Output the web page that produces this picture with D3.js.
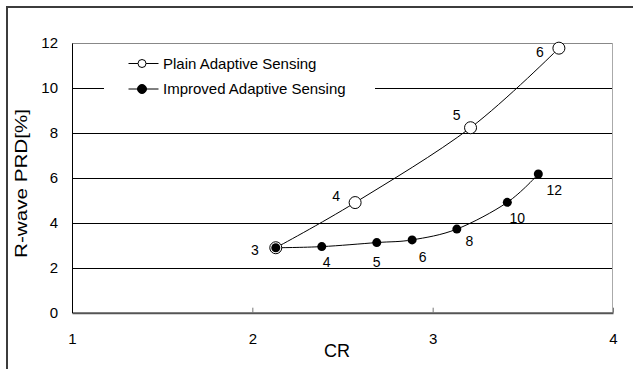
<!DOCTYPE html>
<html>
<head>
<meta charset="utf-8">
<script src="https://cdnjs.cloudflare.com/ajax/libs/d3/7.8.5/d3.min.js"></script>
<style>
    body { margin: 0; background: #fff; }
    svg { display: block; font-family: "Liberation Sans", Arial, sans-serif; }
</style>
</head>
<body>
<svg width="633" height="369"></svg>
<script>
// data
var plain_cr = [2.13, 2.57, 3.21, 3.70];
var plain_prd = [2.89, 4.90, 8.23, 11.77];
var plain_labels = ["3", "4", "5", "6"];

var improved_cr = [2.13, 2.385, 2.69, 2.886, 3.134, 3.414, 3.586];
var improved_prd = [2.89, 2.94, 3.12, 3.24, 3.72, 4.91, 6.17];
var improved_labels = ["3", "4", "5", "6", "8", "10", "12"];

var x_ticks = [1, 2, 3, 4];
var y_ticks = [0, 2, 4, 6, 8, 10, 12];
var series_names = ["Plain Adaptive Sensing", "Improved Adaptive Sensing"];

// label offsets from each point (layout only)
var plain_offsets = [[-21, 7.5], [-19, -2], [-14, -7.5], [-19, 9]];
var improved_offsets = [null, [5, 20.5], [0, 24.5], [10.5, 22.5], [12.5, 17], [10, 21], [16, 21]];

function to_points(xs, ys, labels, offsets) {
    return xs.map(function (v, i) {
        return {cr: v, prd: ys[i], label: labels[i], off: offsets[i]};
    });
}

function draw_chart() {
    var svg = d3.select("svg"),
            margin = {top: 43, right: 20, bottom: 56.3, left: 72},
            width = +svg.attr("width") - margin.left - margin.right,
            height = +svg.attr("height") - margin.top - margin.bottom;

    // outer frame (right and bottom edges fall outside the picture)
    svg.append("rect")
            .attr("x", 7).attr("y", 7)
            .attr("width", 700).attr("height", 500)
            .attr("fill", "none")
            .attr("stroke", "#3c3c3c")
            .attr("stroke-width", 2);

    var g = svg.append("g").attr("transform", "translate(" + margin.left + "," + margin.top + ")");

    var x = d3.scaleLinear().domain([1, 4]).range([0, width]);
    var y = d3.scaleLinear().domain([0, 12]).range([height, 0]);

    var plain = to_points(plain_cr, plain_prd, plain_labels, plain_offsets);
    var improved = to_points(improved_cr, improved_prd, improved_labels, improved_offsets);

    // grid lines
    g.append("g")
            .selectAll("line")
            .data(y_ticks.filter(function (d) { return d > 0 && d < 12; }))
            .enter().append("line")
            .attr("x1", 0).attr("x2", width)
            .attr("y1", function (d) { return Math.round(y(d)) + 0.5; })
            .attr("y2", function (d) { return Math.round(y(d)) + 0.5; })
            .attr("stroke", "#000");

    // plot border: top and right
    g.append("line")
            .attr("x1", 0).attr("x2", width)
            .attr("y1", 0.5).attr("y2", 0.5)
            .attr("stroke", "#888");
    g.append("line")
            .attr("x1", width - 0.5).attr("x2", width - 0.5)
            .attr("y1", 0).attr("y2", height)
            .attr("stroke", "#aaa");

    // axes
    var xAxis = g.append("g")
            .attr("transform", "translate(0," + height + ")")
            .call(d3.axisBottom(x).tickValues(x_ticks).tickFormat(d3.format("d"))
                    .tickSizeInner(-5).tickSizeOuter(0).tickPadding(20.5));
    xAxis.select(".domain").attr("stroke", "#555").attr("stroke-width", 2);
    xAxis.selectAll(".tick line").attr("stroke", "#777");
    xAxis.selectAll("text").attr("font-size", 15).attr("fill", "#000");
    xAxis.attr("font-family", null);

    var yAxis = g.append("g")
            .call(d3.axisLeft(y).tickValues(y_ticks).tickFormat(d3.format("d")).tickSize(0).tickPadding(14));
    yAxis.select(".domain").attr("stroke", "#000");
    yAxis.selectAll("text").attr("font-size", 15).attr("fill", "#000");
    yAxis.attr("font-family", null);

    // axis titles
    svg.append("text")
            .attr("x", 337).attr("y", 357.3)
            .attr("text-anchor", "middle")
            .attr("font-size", 18)
            .text("CR");

    svg.append("text")
            .attr("transform", "translate(26.5,183.5) rotate(-90)")
            .attr("text-anchor", "middle")
            .attr("font-size", 16)
            .attr("textLength", 149)
            .attr("lengthAdjust", "spacingAndGlyphs")
            .text("R-wave PRD[%]");

    // curves
    var line = d3.line()
            .x(function (d) { return x(d.cr); })
            .y(function (d) { return y(d.prd); })
            .curve(d3.curveCardinal);

    g.append("path").datum(plain)
            .attr("d", line).attr("fill", "none").attr("stroke", "#000").attr("stroke-width", 1);
    g.append("path").datum(improved)
            .attr("d", line).attr("fill", "none").attr("stroke", "#000").attr("stroke-width", 1);

    g.append("g").selectAll("circle")
            .data(plain)
            .enter().append("circle")
            .attr("cx", function (d) { return x(d.cr); })
            .attr("cy", function (d) { return y(d.prd); })
            .attr("r", 6)
            .attr("fill", "#fff")
            .attr("stroke", "#000");

    g.append("g").selectAll("circle")
            .data(improved)
            .enter().append("circle")
            .attr("cx", function (d) { return x(d.cr); })
            .attr("cy", function (d) { return y(d.prd); })
            .attr("r", 4.5)
            .attr("fill", "#000");

    // point labels
    var all_labels = plain.concat(improved.filter(function (d) { return d.off; }));
    g.append("g")
            .attr("font-size", 14)
            .attr("text-anchor", "middle")
            .selectAll("text")
            .data(all_labels)
            .enter().append("text")
            .attr("x", function (d) { return x(d.cr) + d.off[0]; })
            .attr("y", function (d) { return y(d.prd) + d.off[1]; })
            .text(function (d) { return d.label; });

    // legend
    var legend = svg.append("g").attr("transform", "translate(104,48)");
    legend.append("rect")
            .attr("width", 271).attr("height", 58)
            .attr("fill", "#fff");

    var items = legend.selectAll("g.item")
            .data(series_names)
            .enter().append("g")
            .attr("class", "item")
            .attr("transform", function (d, i) {
                return "translate(0," + (15.5 + i * 25.5) + ")";
            });

    items.append("line")
            .attr("x1", 24.5).attr("x2", 54.5)
            .attr("stroke", "#000");
    items.append("circle")
            .attr("cx", 38)
            .attr("r", function (d, i) { return i === 0 ? 4 : 4.5; })
            .attr("fill", function (d, i) { return i === 0 ? "#fff" : "#000"; })
            .attr("stroke", "#000");
    items.append("text")
            .attr("x", 59)
            .attr("dy", "0.35em")
            .attr("font-size", 15)
            .text(function (d) { return d; });
}

draw_chart();
</script>
</body>
</html>
